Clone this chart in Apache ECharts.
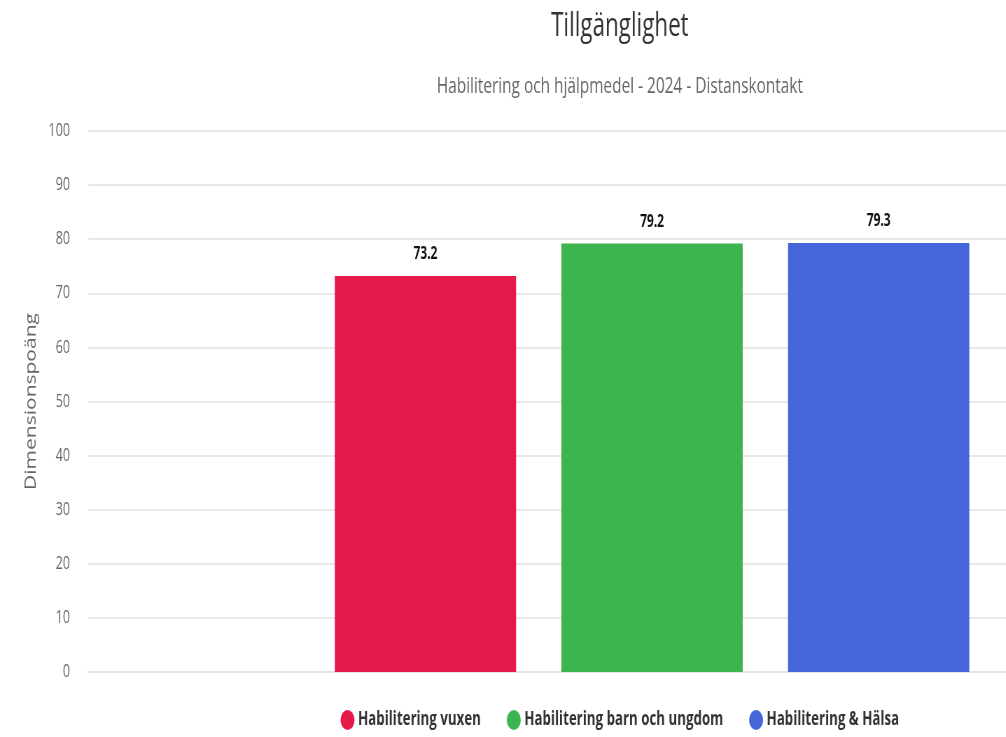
<!DOCTYPE html>
<html>
<head>
<meta charset="utf-8">
<script src="https://cdn.jsdelivr.net/npm/echarts@6/dist/echarts.min.js"></script>
<style>
html,body{margin:0;padding:0;overflow:hidden;background:#fff;}
/* bilden i originalet är ihoptryckt på bredden */
#main{width:1771px;height:737px;transform:scaleX(0.7);transform-origin:0 0;}
</style>
</head>
<body>
<div id="main"></div>
<script>
// data
var kategorier = [''];
var serieNamn = ['Habilitering vuxen', 'Habilitering barn och ungdom', 'Habilitering & Hälsa'];
var varden = [73.2, 79.2, 79.3];
var farger = ['#e51a4b', '#3db54e', '#4466d8'];

var font = "'Open Sans', 'Noto Sans', sans-serif";

var myChart = echarts.init(document.getElementById('main'));
var series = [];
for (var i = 0; i < serieNamn.length; i++) {
    series.push({
        name: serieNamn[i],
        type: 'bar',
        barWidth: 259,
        barGap: '25%',
        itemStyle: {color: farger[i]},
        label: {
            show: true,
            position: 'top',
            distance: 13,
            color: '#111',
            fontWeight: 'bold',
            fontSize: 17,
            fontFamily: font
        },
        data: [varden[i]]
    });
}
var option = {
    animation: false,
    title: {
        text: 'Tillgänglighet',
        subtext: 'Habilitering och hjälpmedel - 2024 - Distanskontakt',
        left: 'center',
        top: 6,
        itemGap: 33,
        textStyle: {fontSize: 32, fontWeight: 'normal', color: '#333', fontFamily: font},
        subtextStyle: {fontSize: 22, color: '#666', fontFamily: font}
    },
    legend: {
        bottom: 2,
        icon: 'circle',
        itemWidth: 20,
        itemHeight: 20,
        itemGap: 37,
        textStyle: {fontSize: 19, fontWeight: 'bold', color: '#333', fontFamily: font},
        data: serieNamn
    },
    grid: {left: 126, right: 34, top: 131, bottom: 65},
    xAxis: {
        type: 'category',
        data: kategorier,
        axisTick: {show: false},
        axisLabel: {show: false},
        axisLine: {lineStyle: {color: '#e3e3e3', width: 2}}
    },
    yAxis: {
        type: 'value',
        min: 0,
        max: 100,
        interval: 10,
        name: 'Dimensionspoäng',
        nameLocation: 'middle',
        nameGap: 70,
        nameTextStyle: {fontSize: 21, color: '#666', fontFamily: font},
        axisLabel: {fontSize: 18, color: '#666', margin: 26, fontFamily: font},
        splitLine: {lineStyle: {color: '#e8e8e8', width: 2}}
    },
    series: series
};
myChart.setOption(option);
</script>
</body>
</html>
